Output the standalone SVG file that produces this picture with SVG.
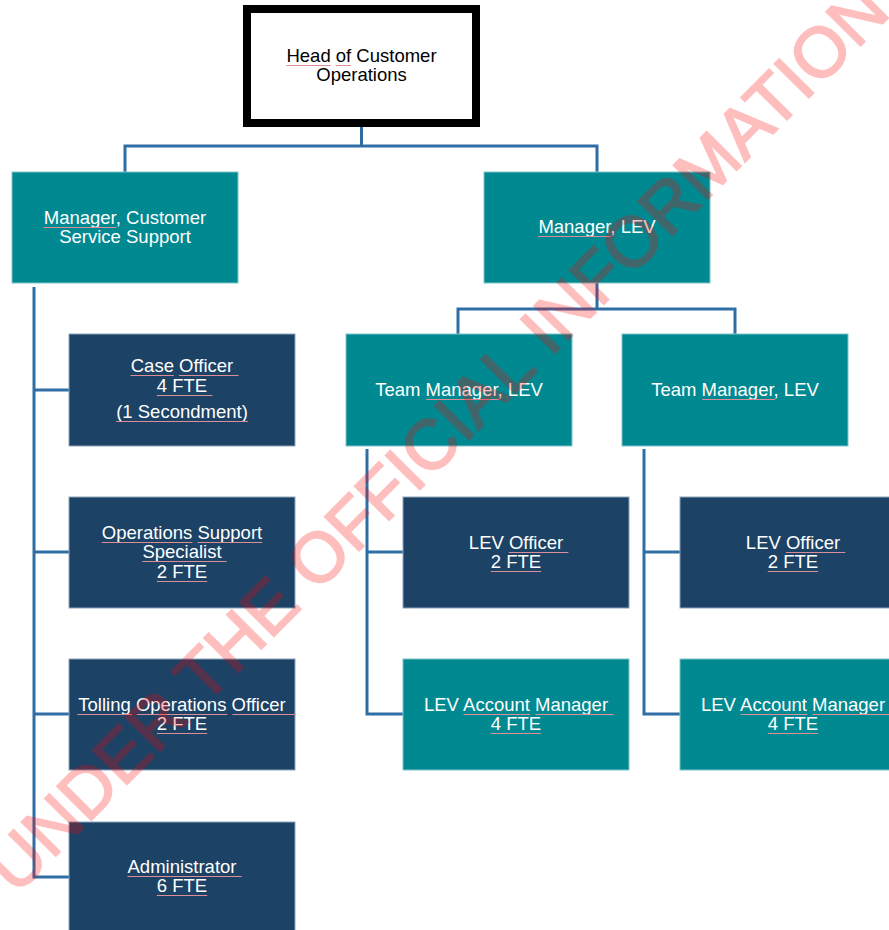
<svg xmlns="http://www.w3.org/2000/svg" width="889" height="930" viewBox="0 0 889 930">
<style>
  text { font-family: "Liberation Sans", Arial, sans-serif; font-size: 18.5px; text-anchor: middle; }
  .w { fill: #ffffff; }
  .k { fill: #000000; }
  .teal { fill: #008991; stroke: #7fc4c8; stroke-width: 1; }
  .navy { fill: #1C4266; stroke: #8ea3ba; stroke-width: 1; }
  .conn { fill: none; stroke: #2F6EA5; stroke-width: 3; stroke-linejoin: miter; stroke-linecap: butt; }
  .ul { stroke: #dc8d98; stroke-width: 1; fill: none; }
  .wm { fill: #ff0000; stroke: #ff0000; stroke-width: 2; stroke-linejoin: miter; font-size: 70px; text-anchor: start; }
</style>

<g id="connectors">
  <path class="conn" d="M361.5,127 V146 M125,172 V146 H597 V172"/>
  <path class="conn" d="M34,287 V877 H69 M34,390 H69 M34,552 H69 M34,714 H69"/>
  <path class="conn" d="M597,283 V309 M458,334 V309 H735 V334"/>
  <path class="conn" d="M367,449 V714 H403 M367,552 H403"/>
  <path class="conn" d="M644,449 V714 H680 M644,552 H680"/>
</g>

<g id="head">
  <rect x="247" y="9" width="229" height="114" fill="#ffffff" stroke="#000000" stroke-width="8"/>
  <text class="k" x="361.5" y="62">Head of Customer</text>
  <text class="k" x="361.5" y="81">Operations</text>
  <path class="ul" d="M286.4,65.5 H330.6 M335.7,65.5 H351.1"/>
</g>

<g id="mgr-css">
  <rect class="teal" x="12" y="172" width="226" height="111"/>
  <text class="w" x="125" y="224">Manager, Customer</text>
  <text class="w" x="125" y="243">Service Support</text>
  <path class="ul" d="M43.3,227.5 H116.3"/>
</g>

<g id="mgr-lev">
  <rect class="teal" x="484" y="172" width="226" height="111"/>
  <text class="w" x="597" y="233">Manager, LEV</text>
  <path class="ul" d="M537.9,236.5 H610.9"/>
</g>

<g id="team-lev-1">
  <rect class="teal" x="346" y="334" width="226" height="112"/>
  <text class="w" x="459" y="396">Team Manager, LEV</text>
  <path class="ul" d="M426.1,399.5 H499.1"/>
</g>

<g id="team-lev-2">
  <rect class="teal" x="622" y="334" width="226" height="112"/>
  <text class="w" x="735" y="396">Team Manager, LEV</text>
  <path class="ul" d="M702.1,399.5 H775.1"/>
</g>

<g id="case-officer">
  <rect class="navy" x="69" y="334" width="226" height="112"/>
  <text class="w" x="182" y="372">Case Officer</text>
  <text class="w" x="182" y="392">4 FTE</text>
  <text class="w" x="182" y="418">(1 Secondment)</text>
  <path class="ul" d="M130.6,375.5 H173.8 M178.9,375.5 H238.6 M156.8,395.5 H212.3 M116.2,421.5 H247.8"/>
</g>

<g id="ops-support">
  <rect class="navy" x="69" y="497" width="226" height="111"/>
  <text class="w" x="182" y="539">Operations Support</text>
  <text class="w" x="182" y="558">Specialist</text>
  <text class="w" x="182" y="578">2 FTE</text>
  <path class="ul" d="M101.8,542.5 H192.3 M197.4,542.5 H262.2 M142.4,561.5 H226.7 M156.8,581.5 H207.2"/>
</g>

<g id="tolling">
  <rect class="navy" x="69" y="659" width="226" height="111"/>
  <text class="w" x="182" y="711">Tolling Operations Officer</text>
  <text class="w" x="182" y="730">2 FTE</text>
  <path class="ul" d="M77.2,714.5 H131.7 M136.8,714.5 H227.3 M232.4,714.5 H296 M156.8,733.5 H207.2"/>
</g>

<g id="administrator">
  <rect class="navy" x="69" y="822" width="226" height="112"/>
  <text class="w" x="182" y="873">Administrator</text>
  <text class="w" x="182" y="892">6 FTE</text>
  <path class="ul" d="M127.5,876.5 H241.6 M156.8,895.5 H207.2"/>
</g>

<g id="lev-officer-1">
  <rect class="navy" x="403" y="497" width="226" height="111"/>
  <text class="w" x="516" y="549">LEV Officer</text>
  <text class="w" x="516" y="568">2 FTE</text>
  <path class="ul" d="M508.8,552.5 H568.4 M490.8,571.5 H541.2"/>
</g>

<g id="lev-account-1">
  <rect class="teal" x="403" y="659" width="226" height="111"/>
  <text class="w" x="516" y="711">LEV Account Manager</text>
  <text class="w" x="516" y="730">4 FTE</text>
  <path class="ul" d="M463.5,714.5 H530.3 M535.4,714.5 H613.5 M490.8,733.5 H541.2"/>
</g>

<g id="lev-officer-2">
  <rect class="navy" x="680" y="497" width="226" height="111"/>
  <text class="w" x="793" y="549">LEV Officer</text>
  <text class="w" x="793" y="568">2 FTE</text>
  <path class="ul" d="M785.8,552.5 H845.4 M767.8,571.5 H818.2"/>
</g>

<g id="lev-account-2">
  <rect class="teal" x="680" y="659" width="226" height="111"/>
  <text class="w" x="793" y="711">LEV Account Manager</text>
  <text class="w" x="793" y="730">4 FTE</text>
  <path class="ul" d="M740.5,714.5 H807.3 M812.4,714.5 H890 M767.8,733.5 H818.2"/>
</g>

<g id="watermark" opacity="0.25">
  <text class="wm" transform="translate(16,896) rotate(-45.2)" x="-392.9" y="0">RELEASED UNDER THE OFFICIAL INFORMATION ACT</text>
</g>
</svg>
